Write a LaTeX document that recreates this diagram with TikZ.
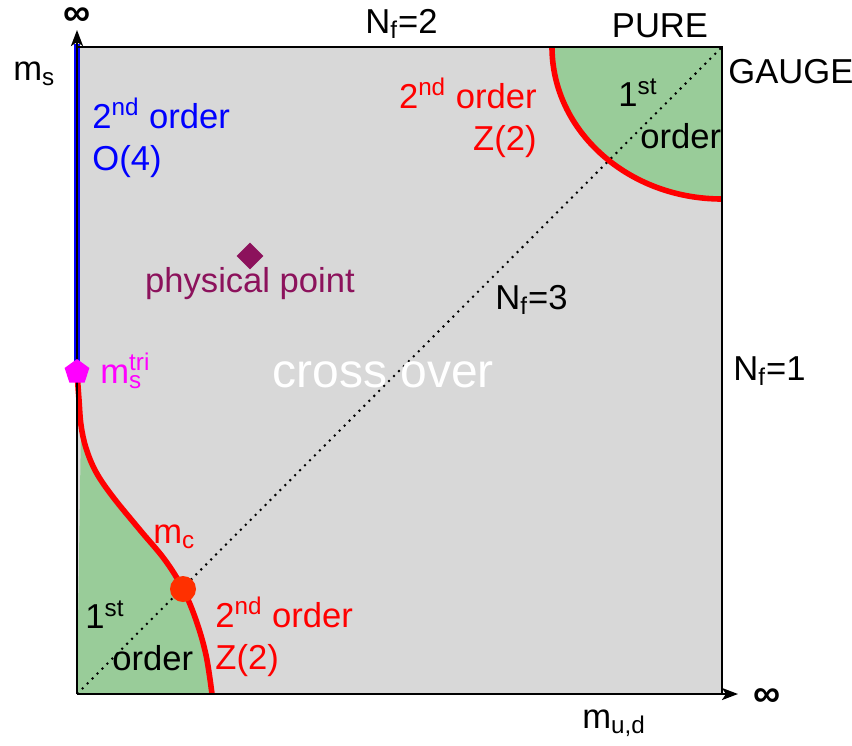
\documentclass[tikz,border=0pt]{standalone}
\usepackage{fontspec}
\setmainfont{Liberation Sans}
\usetikzlibrary{shapes.geometric,arrows.meta}
\definecolor{regiongray}{RGB}{216,216,216}
\definecolor{firstgreen}{RGB}{153,204,153}
\definecolor{physcolor}{RGB}{140,18,92}
\definecolor{critcolor}{RGB}{255,48,0}
\definecolor{tricolor}{RGB}{255,0,255}
\begin{document}
\begin{tikzpicture}[x=0.5pt, y=-0.5pt,
    every node/.style={font=\fontsize{17.3}{21}\selectfont, inner sep=0pt},
    axis/.style={-{Stealth[length=8pt,width=6pt,inset=2pt]}, line width=1.2pt},
    frame/.style={line width=1.2pt},
    zline/.style={red, line width=2.8pt},
    oline/.style={blue, line width=3pt},
    diag/.style={line width=1pt, dash pattern=on 1pt off 2.5pt},
    symb/.style={draw=none, inner sep=0pt},
    inflbl/.style={font=\fontsize{19}{21}\selectfont\bfseries}
]
\useasboundingbox (0,0) rectangle (852,745);

% corners of the plane
\coordinate (origin) at (77,694);
\coordinate (tl) at (77,47);
\coordinate (tr) at (722,47);
\coordinate (br) at (722,694);
\coordinate (ytip) at (77,30);
\coordinate (xtip) at (738,694);
\coordinate (tripos) at (77,372);

% cross over region
\fill[regiongray] (tl) rectangle (br);

% first order regions
\fill[firstgreen] (552,47) arc[start angle=180, end angle=90, x radius=170, y radius=152] -- (tr) -- cycle;
\fill[firstgreen] plot[smooth, tension=0.6] coordinates {(81,425) (86,448) (96,472) (113,497) (140,530) (165,560) (183,589) (196,620) (206,655) (212,694)} -- (origin) -- cycle;

% Nf=3 diagonal
\draw[diag] (origin) -- (tr);

% second order lines
\draw[zline] (552,47) arc[start angle=180, end angle=90, x radius=170, y radius=152];
\draw[zline] plot[smooth, tension=0.6] coordinates {(tripos) (79,400) (81,425) (86,448) (96,472) (113,497) (140,530) (165,560) (183,589) (196,620) (206,655) (212,694)};
\draw[oline] (77,44) -- (tripos);

% frame and axes
\draw[frame] (tl) -- (tr) -- (br);
\draw[axis] (origin) -- (ytip);
\draw[axis] (origin) -- (xtip);

% points
\node[symb, regular polygon, regular polygon sides=5, fill=tricolor, minimum size=13pt] (tri) at (tripos) {};
\node[symb, diamond, fill=physcolor, minimum size=13.5pt] (phys) at (250,256) {};
\node[symb, circle, fill=critcolor, minimum size=13pt] (mcdot) at (183,589) {};

% axis labels
\node[inflbl] (inftop) at (77,17) {∞};
\node[inflbl] (infright) at (767,698) {∞};
\node[anchor=base west] (msaxis) at (13,80) {m\textsubscript{s}};
\node[anchor=base west] (mudaxis) at (582,728) {m\textsubscript{u,d}};
\node[anchor=base west] (nf2) at (365,33) {N\textsubscript{f}=2};
\node[anchor=base west] (nf1) at (733,380) {N\textsubscript{f}=1};
\node[anchor=base] (pure) at (660,37) {PURE};
\node[anchor=base west] (gauge) at (728,83) {GAUGE};

% region labels
\node[anchor=base west] (nf3) at (495,309) {N\textsubscript{f}=3};
\node[anchor=base west, text=white, font=\fontsize{24}{28}\selectfont] (cross) at (272,387) {cross over};
\node[anchor=base, text=physcolor] (physlbl) at (250,292) {physical point};
\node[anchor=north west, align=left, text=blue] (o4lbl) at (92,98) {2\textsuperscript{nd} order\\O(4)};
\node[anchor=north east, align=right, text=red] (z2top) at (537,78) {2\textsuperscript{nd} order\\Z(2)};
\node[anchor=north west, align=left] (firsttop) at (618,78) {1\textsuperscript{st}\\\hspace{11pt}order};
\node[anchor=base west, text=tricolor] (trilbl) at (100,383) {m\rlap{\textsubscript{s}}\textsuperscript{tri}};
\node[anchor=base west, text=red] (mclbl) at (153,543) {m\textsubscript{c}};
\node[anchor=north west, align=left] (firstlow) at (85,600) {1\textsuperscript{st}\\\hspace{13.5pt}order};
\node[anchor=north west, align=left, text=red] (z2low) at (215,597) {2\textsuperscript{nd} order\\Z(2)};
\end{tikzpicture}
\end{document}
